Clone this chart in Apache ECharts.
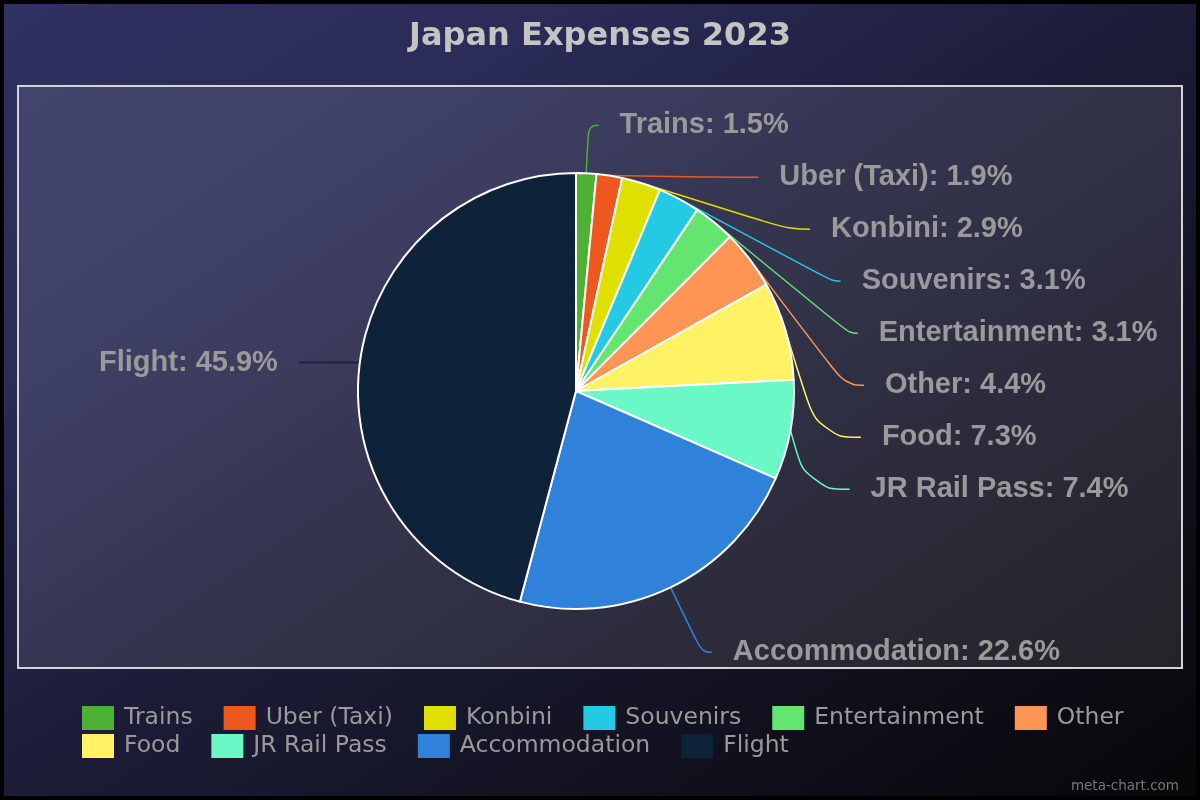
<!DOCTYPE html>
<html>
<head>
<meta charset="utf-8">
<script src="https://cdn.jsdelivr.net/npm/echarts@6/dist/echarts.min.js"></script>
<style>
  html, body { margin: 0; padding: 0; background: #000; width: 1200px; height: 800px; overflow: hidden; }
  #chart {
    position: absolute; left: 4px; top: 4px; width: 1192px; height: 792px;
    background: linear-gradient(to bottom right, #2f3162 0%, #2a2b56 25%, #1c1c37 50%, #070709 100%);
  }
</style>
</head>
<body>
<div id="chart"></div>
<script>
const titleText = 'Japan Expenses 2023';
const categories = ['Trains', 'Uber (Taxi)', 'Konbini', 'Souvenirs', 'Entertainment', 'Other', 'Food', 'JR Rail Pass', 'Accommodation', 'Flight'];
const values = [1.5, 1.9, 2.9, 3.1, 3.1, 4.4, 7.3, 7.4, 22.6, 45.9];
const colors = ['#4db234', '#ee581f', '#dfdf00', '#24c9e4', '#64e570', '#ff9554', '#fff264', '#69f8c6', '#3081d9', '#0e223a'];
const legendRow1 = categories.slice(0, 6);
const legendRow2 = categories.slice(6);

// per-slice label-line styling for the end labels
const labelLineStyleByName = {
  'Trains': { length2: 10 },
  'Accommodation': { length: 72, length2: 10 },
  'Flight': { length: 1, length2: 60 }
};

const chart = echarts.init(document.getElementById('chart'));
const legendBase = {
  orient: 'horizontal',
  left: 78,
  padding: 0,
  itemWidth: 32,
  itemHeight: 24,
  itemGap: 31,
  icon: 'rect',
  selectedMode: false,
  itemStyle: { borderWidth: 0 },
  textStyle: { color: '#9a9a9a', fontFamily: 'DejaVu Sans', fontSize: 23.5, lineHeight: 16, padding: [8, 0, 0, 5] }
};
chart.setOption({
  backgroundColor: 'transparent',
  color: colors,
  title: {
    text: titleText,
    left: 'center',
    top: 12,
    textStyle: { color: '#c4c4c4', fontFamily: 'DejaVu Sans', fontWeight: 'bold', fontSize: 32 }
  },
  graphic: [
    {
      type: 'rect',
      shape: { x: 14, y: 82, width: 1164, height: 582 },
      style: { fill: 'rgba(255,255,255,0.1)', stroke: '#d4d4d4', lineWidth: 2 },
      z: -1, silent: true
    },
    {
      type: 'text',
      right: 17, top: 775,
      style: { text: 'meta-chart.com', fill: '#777777', font: '13.5px "DejaVu Sans"' },
      silent: true
    }
  ],
  legend: [
    Object.assign({}, legendBase, { top: 702, data: legendRow1 }),
    Object.assign({}, legendBase, { top: 730, data: legendRow2 })
  ],
  series: [{
    type: 'pie',
    center: [572, 387],
    radius: 218,
    startAngle: 90,
    clockwise: true,
    animation: false,
    itemStyle: { borderColor: '#ffffff', borderWidth: 2 },
    label: {
      show: true,
      position: 'outer',
      alignTo: 'none',
      formatter: '{b}: {c}%',
      color: '#9a9a9a',
      fontFamily: 'Liberation Sans',
      fontWeight: 'bold',
      fontSize: 29,
      lineHeight: 50,
      distanceToLabelLine: 21
    },
    labelLine: {
      show: true,
      length: 48,
      length2: 43,
      smooth: 0.5,
      lineStyle: { width: 1.5 }
    },
    emphasis: { disabled: true },
    data: categories.map((c, i) => {
      const item = { name: c, value: values[i] };
      if (labelLineStyleByName[c]) item.labelLine = labelLineStyleByName[c];
      return item;
    })
  }]
});
</script>
</body>
</html>
